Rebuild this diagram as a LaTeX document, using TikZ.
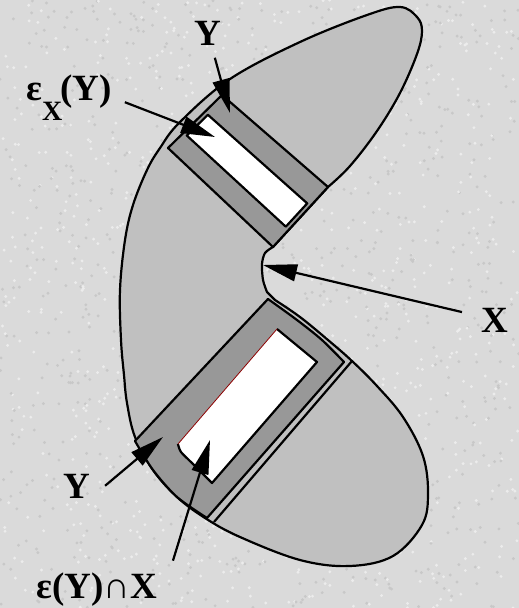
\documentclass[tikz,border=0pt]{standalone}
\usepackage{fontspec}
\setmainfont{Liberation Serif}
\usetikzlibrary{arrows.meta,calc}

\definecolor{paper}{RGB}{218,218,218}
\definecolor{paperdark}{RGB}{200,200,200}
\definecolor{paperlight}{RGB}{236,236,236}
\definecolor{shapegray}{RGB}{192,192,192}
\definecolor{bandgray}{RGB}{152,152,152}
\definecolor{rimred}{RGB}{140,0,0}

\begin{document}
\begin{tikzpicture}[x=1pt,y=-1pt,
    crescent/.style={fill=shapegray, draw=black, line width=2.2pt, line join=round},
    band/.style={fill=bandgray, draw=black, line width=2.2pt, line join=round},
    slot/.style={fill=white, draw=black, line width=2.2pt, line join=round},
    edge/.style={draw=black, line width=2.2pt},
    pointer/.style={-{Triangle[length=34pt,width=17pt]}, line width=2.2pt},
    lbl/.style={font=\fontsize{37}{37}\selectfont\bfseries, inner sep=0pt}
]
% page and background
\fill[paper] (0,0) rectangle (519,608);
\useasboundingbox (0,0) rectangle (519,608);
\pgfmathsetseed{7}
\foreach \i in {1,...,900} {
  \fill[paperdark] (519*rnd,608*rnd) circle (1.6pt);
  \fill[paperlight] (519*rnd,608*rnd) circle (1.6pt);
}

% corners of the two structuring elements
\coordinate (tA) at (168,148);
\coordinate (tB) at (222,95);
\coordinate (tC) at (328,187);
\coordinate (tD) at (273,247);
\coordinate (bT) at (268,299);
\coordinate (bR) at (344,362);
\coordinate (bB) at (207,518);
\coordinate (bL) at (135,441);

% the set X
\path[crescent] (tC) -- plot[smooth, tension=0.6] coordinates {(tC) (350,166) (377,131) (400,93) (417,54) (422,31) (417,17) (400,7) (367,15) (300,42) (230,79) (180,122) (160,148) (147,170) (133,205) (125,240) (120,290) (121,340) (124,375) (127,403) (135,437) (153,470) (177,497) (205,518) (240,537) (300,560) (350,566) (393,556) (422,525) (428,494) (423,456) (403,417) (377,386) (352,361) (328,340) (300,317) (275,300)}
    -- (267,292) -- plot[smooth] coordinates {(267,292) (263,280) (262,264) (265,253) (tD)} -- cycle;

% upper Y
\path[band] (tA) -- (tB) -- (tC) -- (tD) -- cycle;
\coordinate (a1) at ($(tA)!0.29!(tB)$);
\coordinate (a2) at ($(tA)!0.68!(tB)$);
\coordinate (d1) at ($(tD)!0.29!(tC)$);
\coordinate (d2) at ($(tD)!0.68!(tC)$);
\path[slot] ($(a1)!0.03!(d1)$) -- ($(a2)!0.03!(d2)$) -- ($(d2)!0.03!(a2)$) -- ($(d1)!0.03!(a1)$) -- cycle;

% lower Y
\path[band] (bT) -- plot[smooth] coordinates {(bT) (297,320) (322,340) (bR)} -- (bB)
    -- plot[smooth] coordinates {(bB) (177,497) (153,470) (bL)} -- cycle;
\coordinate (wT) at (277,329);
\coordinate (wR) at (317,362);
\coordinate (wB) at (212,483);
\coordinate (wL) at (178,444);
\fill[white] (wT) -- (wR) -- (wB) -- plot[smooth] coordinates {(wB) (192,463) (181,452) (wL)} -- cycle;
\draw[slot, fill=none] (wT) -- (wR) -- (wB) -- plot[smooth] coordinates {(wB) (192,463) (181,452) (wL)};
\draw[rimred, line width=0.8pt] (wL) -- (wT);
\coordinate (rimTop) at (352,361);
\coordinate (rimBot) at (214,522);
\draw[edge] (rimTop) -- (rimBot);

% labels
\node[lbl, anchor=base] (lblYtop) at (208,45) {Y};
\node[lbl, anchor=base west] (lblEps) at (26,100) {ε\raisebox{-20pt}{\fontsize{28}{28}\selectfont X}\kern-2pt(Y)};
\node[lbl, anchor=base] (lblX) at (495,332) {X};
\node[lbl, anchor=base] (lblYbot) at (77,498) {Y};
\node[lbl, anchor=base] (lblEpsX) at (97,598) {ε(Y)∩X};

% arrow tips
\coordinate (tipYtop) at (230,113);
\coordinate (tipEps) at (215,137);
\coordinate (tipX) at (263,265);
\coordinate (tipYbot) at (163,437);
\coordinate (tipEpsX) at (210,440);

\draw[pointer, shorten <=13pt] (lblYtop) -- (tipYtop);
\draw[pointer, shorten <=14pt] (lblEps.east) -- (tipEps);
\draw[pointer, shorten <=20pt] (lblX) -- (tipX);
\draw[pointer, shorten <=19pt] (lblYbot.base east) -- (tipYbot);
\draw[pointer, shorten <=12pt] ([xshift=12pt]lblEpsX.north east) -- (tipEpsX);
\end{tikzpicture}
\end{document}
